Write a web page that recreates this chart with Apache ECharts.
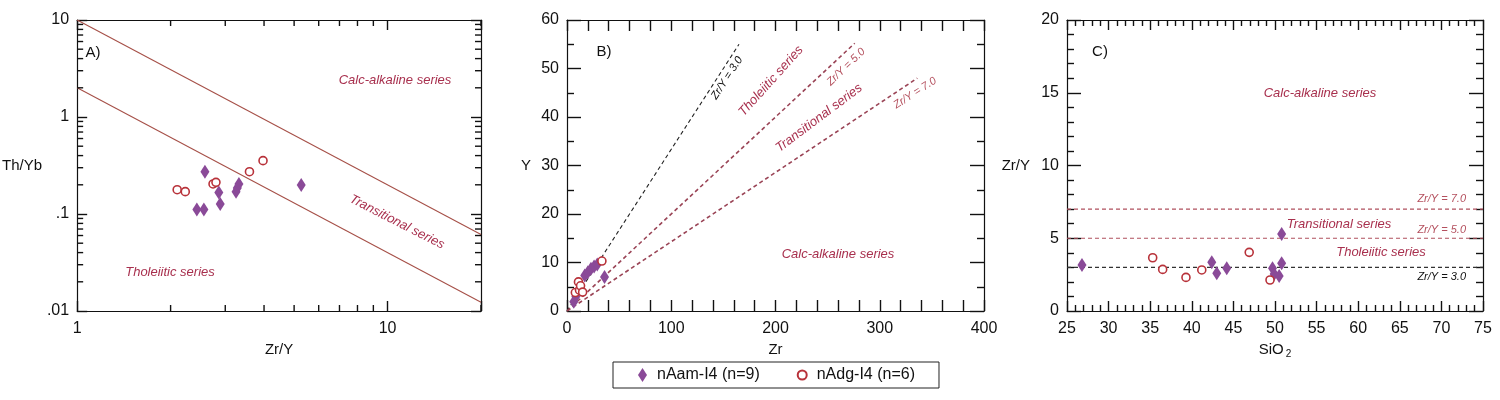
<!DOCTYPE html>
<html>
<head>
<meta charset="utf-8">
<script src="https://cdn.jsdelivr.net/npm/echarts@6/dist/echarts.min.js"></script>
<style>
  html, body { margin: 0; background: #fff; }
  #chart { width: 1500px; height: 400px; }
</style>
</head>
<body>
<div id="chart"></div>
<script>
// Panel A: Th/Yb vs Zr/Y (log-log)
const aAmZrY  = [2.43, 2.56, 2.58, 2.86, 2.89, 3.25, 3.28, 3.32, 5.27];
const aAmThYb = [0.111, 0.111, 0.273, 0.167, 0.127, 0.170, 0.185, 0.204, 0.199];
const aDgZrY  = [2.10, 2.23, 2.74, 2.80, 3.59, 3.97];
const aDgThYb = [0.178, 0.170, 0.204, 0.212, 0.273, 0.355];
const aUpperLine = [[1, 10], [20, 0.0614]];
const aLowerLine = [[1, 2], [20, 0.0123]];
const aXMinor = [2, 3, 4, 5, 6, 7, 8, 9, 20];
const aYMinor = [0.02, 0.03, 0.04, 0.05, 0.06, 0.07, 0.08, 0.09,
                 0.2, 0.3, 0.4, 0.5, 0.6, 0.7, 0.8, 0.9,
                 2, 3, 4, 5, 6, 7, 8, 9];

// Panel B: Y vs Zr
const bAmZr = [6.5, 8.5, 12, 17, 20, 23, 26, 29, 36];
const bAmY  = [1.9, 3.0, 4.6, 7.3, 8.0, 8.7, 9.2, 9.6, 7.0];
const bDgZr = [8, 11, 12, 13, 15, 33.5];
const bDgY  = [3.8, 6.0, 4.3, 5.2, 3.9, 10.3];
const bLine3 = [[0, 0], [165, 55]];
const bLine5 = [[0, 0], [276, 55.2]];
const bLine7 = [[0, 0], [336, 48]];

// Panel C: Zr/Y vs SiO2
const cAmSiO2 = [26.8, 42.4, 43.0, 44.2, 49.7, 49.9, 50.5, 50.8, 50.8];
const cAmZrY  = [3.16, 3.35, 2.59, 2.93, 2.93, 2.55, 2.41, 5.29, 3.28];
const cDgSiO2 = [35.3, 36.5, 39.3, 41.2, 46.9, 49.4];
const cDgZrY  = [3.66, 2.86, 2.31, 2.82, 4.03, 2.13];
const cLine7 = [[25, 7], [75, 7]];
const cLine5 = [[25, 5], [75, 5]];
const cLine3 = [[25, 3], [75, 3]];

const AM = 'nAam-I4 (n=9)';
const DG = 'nAdg-I4 (n=6)';
const amColor = '#8a4a98';
const dgColor = '#b8323a';
const noteColor = '#a8304e';
const ratioColor = '#b4505e';
const font = 'Liberation Sans, Arial, sans-serif';

const zip = (xs, ys) => xs.map((x, i) => [x, ys[i]]);

const logLabel = v => {
  const e = Math.round(Math.log10(v));
  if (Math.abs(Math.log10(v) - e) > 0.01) return '';
  return e >= 0 ? String(Math.pow(10, e)) : '.' + '0'.repeat(-e - 1) + '1';
};

const grids = [
  { left: 65, top: 20, width: 416, height: 291 },
  { left: 567, top: 20, width: 417, height: 291 },
  { left: 1067, top: 20, width: 416, height: 291 }
];

const tickStyle = { color: '#111', width: 1.4 };
const line = { show: true, onZero: false, lineStyle: { color: '#111', width: 1.2 } };
const lbl = { show: true, color: '#111', fontSize: 16, fontFamily: font };
const nameStyle = { color: '#111', fontSize: 15, fontFamily: font };

function axisPair(kind, grid, base, major, minor, minorSplit) {
  const main = Object.assign({
    gridIndex: grid,
    axisLine: line,
    axisTick: { show: true, inside: true, length: major, lineStyle: tickStyle },
    minorTick: { show: minor > 0, length: minor, splitNumber: minorSplit || 5, lineStyle: tickStyle },
    splitLine: { show: false },
    axisLabel: lbl,
    nameLocation: 'middle',
    nameTextStyle: nameStyle
  }, base);
  const mirror = Object.assign({}, main, {
    position: kind === 'x' ? 'top' : 'right',
    name: '',
    axisLabel: { show: false }
  });
  main.position = kind === 'x' ? 'bottom' : 'left';
  return [main, mirror];
}

const xAxes = [].concat(
  axisPair('x', 0, { type: 'log', logBase: 10, min: 1, max: 20, name: 'Zr/Y', nameGap: 30,
    axisLabel: Object.assign({}, lbl, { margin: 10, formatter: logLabel }) }, 10, 0),
  axisPair('x', 1, { type: 'value', min: 0, max: 400, interval: 20, name: 'Zr', nameGap: 30,
    axisLabel: Object.assign({}, lbl, { margin: 10, formatter: v => (v % 100 === 0 ? String(v) : '') }) }, 11, 0),
  axisPair('x', 2, { type: 'value', min: 25, max: 75, interval: 5, name: 'SiO{sub|2}', nameGap: 30,
    nameTextStyle: Object.assign({}, nameStyle, { rich: { sub: { fontSize: 10, fontFamily: font, color: '#111', padding: [8, 0, 0, 2] } } }),
    axisLabel: Object.assign({}, lbl, { margin: 10 }) }, 10, 6, 5)
);

const yAxes = [].concat(
  axisPair('y', 0, { type: 'log', logBase: 10, min: 0.01, max: 10, name: 'Th/Yb', nameGap: 16, nameRotate: 0,
    axisLabel: Object.assign({}, lbl, { margin: 8, formatter: logLabel }) }, 10, 0),
  axisPair('y', 1, { type: 'value', min: 0, max: 60, interval: 10, name: 'Y', nameGap: 36, nameRotate: 0,
    axisLabel: Object.assign({}, lbl, { margin: 8 }) }, 14, 7, 2),
  axisPair('y', 2, { type: 'value', min: 0, max: 20, interval: 5, name: 'Zr/Y', nameGap: 37, nameRotate: 0,
    axisLabel: Object.assign({}, lbl, { margin: 8 }) }, 14, 7, 5)
);

function refLine(idx, data, color, dashed, width) {
  return {
    type: 'line', xAxisIndex: idx * 2, yAxisIndex: idx * 2, data, silent: true,
    symbol: 'none', z: 1,
    lineStyle: { color, width: width || 1.2, type: dashed ? [4, 3] : 'solid' }
  };
}

function pts(idx, name, data) {
  const am = name === AM;
  return {
    type: 'scatter', name, xAxisIndex: idx * 2, yAxisIndex: idx * 2, data, z: 3,
    symbol: am ? 'diamond' : 'circle',
    symbolSize: am ? [9, 14] : 8,
    itemStyle: am ? { color: amColor, opacity: 1 }
                  : { color: '#fff', borderColor: dgColor, borderWidth: 1.6, opacity: 1 }
  };
}

// minor ticks for the log axes of panel A, placed through the axis scales
const logMinor = {
  type: 'custom', xAxisIndex: 0, yAxisIndex: 0, silent: true, clip: false, z: 5,
  data: aXMinor.map(v => [v, 1, 0]).concat(aYMinor.map(v => [1, v, 1])),
  encode: { x: 0, y: 1 },
  renderItem(params, api) {
    const cs = params.coordSys;
    const p = api.coord([api.value(0), api.value(1)]);
    const st = { stroke: '#111', lineWidth: 1.4, fill: null };
    const L = 6;
    if (api.value(2) === 0) {
      const b = cs.y + cs.height;
      return { type: 'group', children: [
        { type: 'line', shape: { x1: p[0], y1: b, x2: p[0], y2: b - L }, style: st },
        { type: 'line', shape: { x1: p[0], y1: cs.y, x2: p[0], y2: cs.y + L }, style: st }
      ] };
    }
    const r = cs.x + cs.width;
    return { type: 'group', children: [
      { type: 'line', shape: { x1: cs.x, y1: p[1], x2: cs.x + L, y2: p[1] }, style: st },
      { type: 'line', shape: { x1: r, y1: p[1], x2: r - L, y2: p[1] }, style: st }
    ] };
  }
};

function note(x, y, text, opt) {
  opt = opt || {};
  return {
    type: 'text', x, y, rotation: (opt.rot || 0) * Math.PI / 180, z: 10,
    style: {
      text, fill: opt.color || noteColor, fontSize: opt.size || 13,
      fontStyle: opt.plain ? 'normal' : 'italic', fontFamily: font,
      align: opt.align || 'center', verticalAlign: 'middle'
    }
  };
}

const graphics = [
  note(93, 53, 'A)', { plain: true, color: '#111', size: 15 }),
  note(395, 80, 'Calc-alkaline series'),
  note(397, 222, 'Transitional series', { rot: -27 }),
  note(170, 272, 'Tholeiitic series'),

  note(604, 52, 'B)', { plain: true, color: '#111', size: 15 }),
  note(727, 78, 'Zr/Y = 3.0', { rot: 57, color: '#111', size: 11 }),
  note(771, 81, 'Tholeiitic series', { rot: 48 }),
  note(846, 67, 'Zr/Y = 5.0', { rot: 44, color: ratioColor, size: 11 }),
  note(819, 118, 'Transitional series', { rot: 37 }),
  note(915, 93, 'Zr/Y = 7.0', { rot: 33, color: ratioColor, size: 11 }),
  note(838, 254, 'Calc-alkaline series'),

  note(1100, 52, 'C)', { plain: true, color: '#111', size: 15 }),
  note(1320, 93, 'Calc-alkaline series'),
  note(1466, 199, 'Zr/Y = 7.0', { align: 'right', color: ratioColor, size: 11 }),
  note(1339, 224, 'Transitional series'),
  note(1466, 230, 'Zr/Y = 5.0', { align: 'right', color: ratioColor, size: 11 }),
  note(1381, 252, 'Tholeiitic series'),
  note(1466, 277, 'Zr/Y = 3.0', { align: 'right', color: '#111', size: 11 })
];

const chart = echarts.init(document.getElementById('chart'), null, { renderer: 'canvas' });
chart.setOption({
  animation: false,
  backgroundColor: '#fff',
  grid: grids,
  xAxis: xAxes,
  yAxis: yAxes,
  legend: {
    data: [AM, DG],
    left: 613, top: 362,
    orient: 'horizontal',
    borderColor: '#222', borderWidth: 1,
    padding: [5, 24, 5, 25],
    itemGap: 37,
    itemWidth: 9, itemHeight: 14,
    textStyle: { color: '#111', fontSize: 16, fontFamily: font, padding: [0, 0, 0, 5] }
  },
  graphic: graphics,
  series: [
    refLine(0, aUpperLine, '#a65048', false, 1.1),
    refLine(0, aLowerLine, '#a65048', false, 1.1),
    logMinor,
    pts(0, AM, zip(aAmZrY, aAmThYb)),
    pts(0, DG, zip(aDgZrY, aDgThYb)),

    refLine(1, bLine3, '#222', true, 1.1),
    refLine(1, bLine5, '#9a4456', true, 1.6),
    refLine(1, bLine7, '#9a4456', true, 1.6),
    pts(1, AM, zip(bAmZr, bAmY)),
    pts(1, DG, zip(bDgZr, bDgY)),

    refLine(2, cLine7, '#b0505e', true, 1.2),
    refLine(2, cLine5, '#b0505e', true, 1.2),
    refLine(2, cLine3, '#333', true, 1.4),
    pts(2, AM, zip(cAmSiO2, cAmZrY)),
    pts(2, DG, zip(cDgSiO2, cDgZrY))
  ]
});
</script>
</body>
</html>
